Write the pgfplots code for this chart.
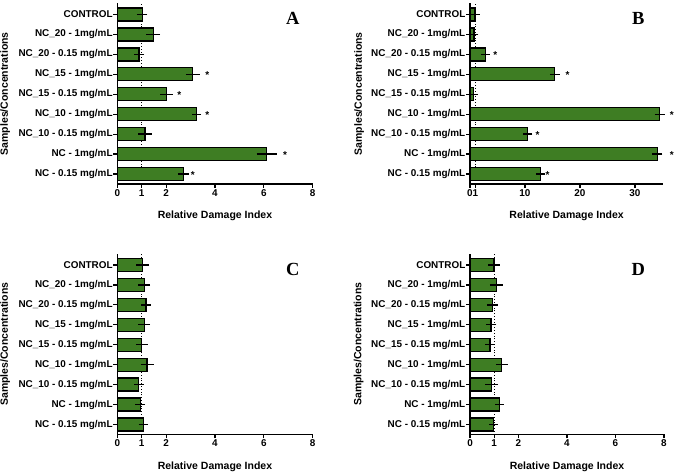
\documentclass[border=0pt]{standalone}
\usepackage{fontspec}
\setmainfont{Liberation Sans}
\newfontfamily\serifb{Liberation Serif}
\usepackage{pgfplots}
\pgfplotsset{compat=1.18}
\definecolor{barg}{RGB}{62,125,35}
\newcommand{\tlfont}{\bfseries\fontsize{9.9}{12}\selectfont}
\pgfplotsset{
  panel/.style={
    scale only axis, height=180.5pt,
    xmin=0, ymin=-0.5, ymax=8.55,
    axis x line*=bottom, axis y line*=left,
    axis line style={line width=1.3pt, black},
    ytick={0,...,8},
    yticklabels={NC - 0.15 mg/mL, NC - 1mg/mL, NC\_10 - 0.15 mg/mL, NC\_10 - 1mg/mL, NC\_15 - 0.15 mg/mL, NC\_15 - 1mg/mL, NC\_20 - 0.15 mg/mL, NC\_20 - 1mg/mL, CONTROL},
    tick align=outside, major tick length=4pt,
    tick style={line width=1.2pt, black},
    /pgf/number format/assume math mode=true,
    tick label style={font=\tlfont},
    yticklabel style={inner sep=0.5pt},
    xticklabel style={inner sep=1pt},
    xlabel={Relative Damage Index},
    ylabel={Samples/Concentrations},
    label style={font=\bfseries\fontsize{10.5}{12}\selectfont},
    xlabel style={at={(axis description cs:0.5,-0.178)}, anchor=center},
    ylabel style={at={(axis description cs:-0.574,0.5)}, anchor=center, rotate=0},
    clip=false,
  },
  bars/.style={xbar, bar width=13pt, fill=barg, draw=black, line width=1.3pt,
    error bars/.cd, x dir=both, x explicit,
    error bar style={line width=1.3pt, black},
    error mark options={line width=1.3pt, black, mark size=4pt}},
  refline/.style={black, dotted, line width=0.8pt},
  stars/.style={draw=none, mark=none, nodes near coords={*},
    every node near coord/.append style={anchor=center, yshift=-1.2pt, font=\bfseries\fontsize{10}{12}\selectfont}},
}
\begin{document}
\begin{tikzpicture}[font=\bfseries]
\useasboundingbox (0,0) rectangle (675pt,473pt);
% Panel A
\begin{axis}[panel, at={(117.3pt,289pt)}, anchor=south west, width=195.4pt, xmax=8, xtick={0,1,2,4,6,8}]
\addplot[refline] coordinates {(1,-0.5) (1,8.55)};
\addplot[bars] table[x=v, y=c, x error=e] {
c v e
8 1.02 0.05
7 1.47 0.12
6 0.89 0.04
5 3.09 0.12
4 2.02 0.09
3 3.25 0.02
2 1.13 0.11
1 6.12 0.25
0 2.70 0.06
};
\addplot[stars] coordinates {(3.69,5) (2.54,4) (3.69,3) (6.87,1) (3.09,0)};
\end{axis}
% Panel B
\begin{axis}[panel, at={(470pt,289pt)}, anchor=south west, width=193.3pt, xmax=35.15, xtick={0,1,10,20,30}]
\addplot[refline] coordinates {(1,-0.5) (1,8.55)};
\addplot[bars] table[x=v, y=c, x error=e] {
c v e
8 0.90 0.10
7 0.73 0.08
6 2.80 0.10
5 15.40 0.15
4 0.67 0.08
3 34.50 0.20
2 10.50 0.10
1 34.05 0.20
0 12.85 0.15
};
\addplot[stars] coordinates {(4.6,6) (17.76,5) (36.7,3) (12.3,2) (36.7,1) (14.1,0)};
\end{axis}
% Panel C
\begin{axis}[panel, at={(117.3pt,38.5pt)}, anchor=south west, width=195.4pt, xmax=8, xtick={0,1,2,4,6,8}]
\addplot[refline] coordinates {(1,-0.5) (1,8.55)};
\addplot[bars] table[x=v, y=c, x error=e] {
c v e
8 1.04 0.10
7 1.10 0.08
6 1.18 0.03
5 1.10 0.08
4 1.00 0.08
3 1.22 0.10
2 0.88 0.03
1 0.94 0.04
0 1.07 0.03
};
\end{axis}
% Panel D
\begin{axis}[panel, at={(470pt,38.5pt)}, anchor=south west, width=194pt, xmax=8, xtick={0,1,2,4,6,8}]
\addplot[refline] coordinates {(1,-0.5) (1,8.55)};
\addplot[bars] table[x=v, y=c, x error=e] {
c v e
8 0.99 0.08
7 1.08 0.10
6 0.93 0.05
5 0.87 0.05
4 0.82 0.03
3 1.31 0.08
2 0.89 0.10
1 1.21 0.01
0 0.97 0.01
};
\end{axis}
\node[font=\serifb\bfseries\fontsize{18.5}{20}\selectfont] at (292.7pt,454.7pt) {A};
\node[font=\serifb\bfseries\fontsize{18.5}{20}\selectfont] at (638.3pt,454.7pt) {B};
\node[font=\serifb\bfseries\fontsize{18.5}{20}\selectfont] at (292.7pt,203.7pt) {C};
\node[font=\serifb\bfseries\fontsize{18.5}{20}\selectfont] at (638.3pt,203.7pt) {D};
\end{tikzpicture}
\end{document}
